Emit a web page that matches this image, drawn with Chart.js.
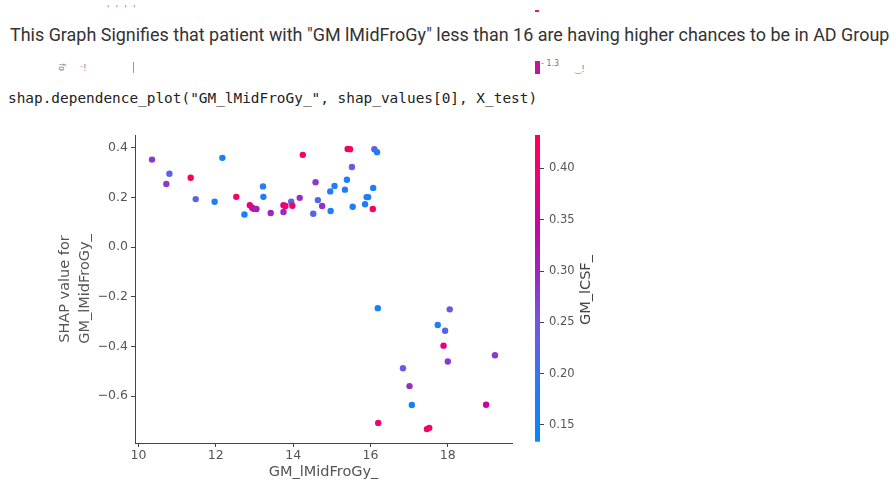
<!DOCTYPE html>
<html><head><meta charset="utf-8">
<script src="https://cdn.jsdelivr.net/npm/chart.js@4.4.0/dist/chart.umd.min.js"></script>
<style>
html,body{margin:0;padding:0;background:#fff;width:896px;height:485px;overflow:hidden;position:relative}
#main{position:absolute;left:0;top:0}
#cbar{position:absolute;left:520px;top:0}
.heading{position:absolute;left:10px;top:24px;font-family:Roboto;color:#333;white-space:nowrap;font-size:18px;line-height:22px}
.code{position:absolute;left:8px;top:89px;font-family:"DejaVu Sans Mono";color:#222;white-space:nowrap;font-size:14.4px;line-height:18px}
.cblabel{position:absolute;left:585px;top:290px;transform:translate(-50%,-50%) rotate(-90deg);font-family:"DejaVu Sans";font-size:14.5px;color:#444;white-space:nowrap}
.frag{position:absolute;font-family:"DejaVu Sans";color:#777;font-size:8px;white-space:nowrap;line-height:10px}
.mark{position:absolute}
</style></head>
<body>
<div class="frag" style="left:107px;top:5px;letter-spacing:2px">' ' ' '</div>
<div class="mark" style="left:535px;top:10px;width:4px;height:2px;background:#e0157f"></div>
<div class="frag" style="left:57px;top:62px;transform:rotate(90deg)">fo</div>
<div class="frag" style="left:80px;top:64px">ᵔ!</div>
<div class="mark" style="left:133px;top:62px;width:1px;height:11px;background:#999"></div>
<div class="mark" style="left:535px;top:61px;width:5px;height:13px;background:#c0169f"></div>
<div class="frag" style="left:541px;top:59px">- 1.3</div>
<div class="frag" style="left:575px;top:65px">‿!</div>
<div class="heading" id="heading">This Graph Signifies that patient with "GM lMidFroGy" less than 16 are having higher chances to be in AD Group</div>
<div class="code" id="code">shap.dependence_plot("GM_lMidFroGy_", shap_values[0], X_test)</div>
<canvas id="main" width="896" height="485"></canvas>
<canvas id="cbar" width="60" height="485"></canvas>
<div class="cblabel">GM_lCSF_</div>
<script>
// ---- data ----
const featureX = [10.35,10.72,10.80,11.35,11.48,11.97,12.17,12.53,12.74,12.88,12.94,12.98,13.05,13.22,13.23,13.42,13.75,13.75,13.80,13.95,13.98,14.17,14.25,14.58,14.64,14.52,14.75,14.96,15.07,14.97,15.34,15.39,15.41,15.47,15.52,15.54,15.86,15.90,15.94,16.07,16.06,16.10,16.17,16.19,16.20,16.84,17.01,17.07,17.46,17.52,17.74,17.89,17.93,18.00,18.05,18.99,19.22];
const shapValues = [0.352,0.254,0.295,0.279,0.193,0.182,0.359,0.202,0.131,0.168,0.158,0.154,0.153,0.244,0.202,0.137,0.141,0.168,0.165,0.182,0.166,0.198,0.371,0.261,0.189,0.134,0.165,0.224,0.246,0.145,0.231,0.271,0.395,0.394,0.322,0.162,0.172,0.201,0.201,0.238,0.153,0.394,0.382,-0.246,-0.708,-0.488,-0.560,-0.636,-0.733,-0.728,-0.314,-0.397,-0.337,-0.461,-0.251,-0.635,-0.436];
const colorFeature = [0.28,0.28,0.23,0.42,0.23,0.17,0.16,0.41,0.16,0.39,0.36,0.33,0.31,0.18,0.17,0.30,0.30,0.39,0.40,0.23,0.40,0.29,0.41,0.28,0.22,0.22,0.29,0.17,0.17,0.17,0.17,0.17,0.42,0.42,0.24,0.17,0.17,0.17,0.17,0.17,0.42,0.24,0.17,0.16,0.39,0.24,0.29,0.16,0.41,0.41,0.17,0.38,0.23,0.28,0.25,0.35,0.28];
const xTicks = [10,12,14,16,18];
const yTicks = [0.4,0.2,0.0,-0.2,-0.4,-0.6];
const cbTicks = [0.15,0.20,0.25,0.30,0.35,0.40];
const xLabel = "GM_lMidFroGy_";
const yLabel = ["SHAP value for", "GM_lMidFroGy_"];
const cbMin = 0.1337, cbMax = 0.4325;

// ---- fit text widths ----
function fit(id, target){
  const el = document.getElementById(id);
  const w = el.getBoundingClientRect().width;
  const fs = parseFloat(getComputedStyle(el).fontSize);
  el.style.fontSize = (fs*target/w) + 'px';
}
fit('heading', 880);
fit('code', 529);

// ---- colormap (blue -> purple -> red) ----
const stops = [
  [0.00,[0,138,251]],
  [0.20,[50,118,242]],
  [0.40,[118,84,222]],
  [0.55,[155,40,192]],
  [0.70,[198,6,160]],
  [0.85,[236,0,122]],
  [1.00,[255,0,82]]
];
function cmap(t){
  t = Math.max(0, Math.min(1, t));
  for (let i=1;i<stops.length;i++){
    if (t <= stops[i][0]){
      const [t0,c0] = stops[i-1], [t1,c1] = stops[i];
      const f = (t-t0)/(t1-t0);
      const c = c0.map((v,k)=>Math.round(v+(c1[k]-v)*f));
      return `rgb(${c[0]},${c[1]},${c[2]})`;
    }
  }
  return 'rgb(255,0,82)';
}
const pointColors = colorFeature.map(v => cmap((v-cbMin)/(cbMax-cbMin)));
const points = featureX.map((x,i)=>({x:x, y:shapValues[i]}));

const axisColor = '#444';
const tickFont = {family:'DejaVu Sans', size:12.5};
const labelFont = {family:'DejaVu Sans', size:14.5};
function fmt(v){ const s = Math.abs(v).toFixed(1); return (v < -1e-9 ? '\u2212' : '') + s; }

new Chart(document.getElementById('main'), {
  type: 'scatter',
  data: { datasets: [{ data: points, pointBackgroundColor: pointColors, pointBorderWidth: 0, pointRadius: 3.2, pointHoverRadius: 3.2 }] },
  options: {
    responsive: false, animation: false, devicePixelRatio: 1,
    layout: { padding: { left: 50, right: 384, top: 135, bottom: 4 } },
    plugins: { legend: { display: false }, tooltip: { enabled: false } },
    scales: {
      x: {
        type: 'linear', min: 9.91, max: 19.66,
        afterBuildTicks: s => { s.ticks = xTicks.map(v => ({value: v})); },
        afterFit: s => { s.height = 38; },
        ticks: { color: '#555', font: tickFont, padding: 1, maxRotation: 0, callback: v => String(v) },
        grid: { drawOnChartArea: false, drawTicks: true, tickLength: 4, color: axisColor },
        border: { display: true, color: axisColor, width: 1 },
        title: { display: true, text: xLabel, color: '#555', font: labelFont, padding: { top: 0, bottom: 0 } }
      },
      y: {
        type: 'linear', min: -0.789, max: 0.451,
        afterBuildTicks: s => { s.ticks = yTicks.map(v => ({value: v})); },
        afterFit: s => { s.width = 85; },
        ticks: { color: '#555', font: tickFont, padding: 3, callback: v => fmt(v) },
        grid: { drawOnChartArea: false, drawTicks: true, tickLength: 4, color: axisColor },
        border: { display: true, color: axisColor, width: 1 },
        title: { display: true, text: yLabel, color: '#555', font: {family:'DejaVu Sans', size:14.5, lineHeight:1.38}, padding: { top: 5, bottom: 0 } }
      }
    }
  }
});

// ---- colorbar ----
const gradientPlugin = {
  id: 'cbgrad',
  beforeDatasetsDraw(chart){
    const {ctx, chartArea:a} = chart;
    const g = ctx.createLinearGradient(0, a.bottom, 0, a.top);
    for (let i=0;i<=20;i++){ g.addColorStop(i/20, cmap(i/20)); }
    ctx.save(); ctx.fillStyle = g; ctx.fillRect(a.left, a.top, a.right-a.left, a.bottom-a.top); ctx.restore();
  }
};
new Chart(document.getElementById('cbar'), {
  type: 'scatter',
  data: { datasets: [{ data: [] }] },
  plugins: [gradientPlugin],
  options: {
    responsive: false, animation: false, devicePixelRatio: 1,
    layout: { padding: { left: 15, right: 0, top: 135, bottom: 43.3 } },
    plugins: { legend: { display: false }, tooltip: { enabled: false } },
    scales: {
      x: { display: false, min: 0, max: 1 },
      y: {
        position: 'right', min: cbMin, max: cbMax,
        afterBuildTicks: s => { s.ticks = cbTicks.map(v => ({value: v})); },
        afterFit: s => { s.width = 40; },
        ticks: { color: '#555', font: {family:'DejaVu Sans', size:11.5}, padding: 5, callback: v => v.toFixed(2) },
        grid: { drawOnChartArea: false, drawTicks: true, tickLength: 4, color: axisColor },
        border: { display: false }
      }
    }
  }
});
</script>
</body></html>
